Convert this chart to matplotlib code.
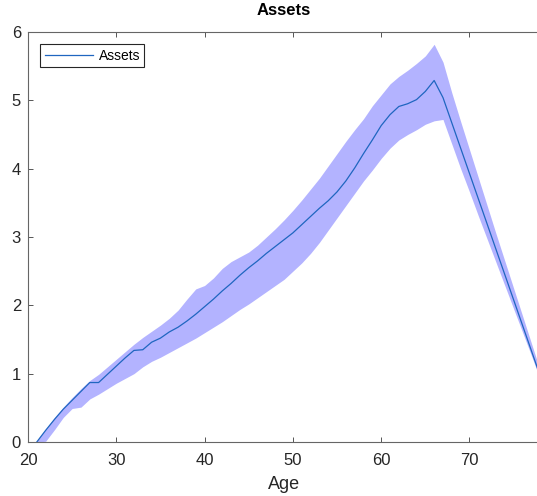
import matplotlib
matplotlib.use("Agg")
import matplotlib.pyplot as plt

# age grid and asset path (mean with upper/lower band)
age = list(range(21, 79))

assets_mean = [0.00, 0.17, 0.33, 0.48, 0.61, 0.74, 0.87, 0.87, 0.99, 1.11,
               1.23, 1.34, 1.35, 1.46, 1.52, 1.61, 1.68, 1.77, 1.87, 1.98,
               2.09, 2.21, 2.32, 2.44, 2.55, 2.65, 2.76, 2.86, 2.96, 3.06,
               3.18, 3.30, 3.42, 3.53, 3.66, 3.82, 4.01, 4.22, 4.42, 4.63,
               4.79, 4.91, 4.95, 5.01, 5.13, 5.29, 5.04, 4.67, 4.30, 3.93,
               3.56, 3.19, 2.82, 2.45, 2.08, 1.71, 1.34, 0.97]

assets_upper = [0.02, 0.19, 0.36, 0.51, 0.65, 0.78, 0.90, 0.99, 1.10, 1.21,
                1.32, 1.43, 1.53, 1.62, 1.71, 1.81, 1.93, 2.09, 2.24, 2.29,
                2.40, 2.54, 2.64, 2.71, 2.78, 2.88, 3.00, 3.12, 3.25, 3.39,
                3.54, 3.70, 3.86, 4.04, 4.22, 4.40, 4.57, 4.73, 4.92, 5.08,
                5.24, 5.35, 5.44, 5.54, 5.65, 5.82, 5.56, 5.11, 4.69, 4.28,
                3.87, 3.46, 3.05, 2.65, 2.25, 1.85, 1.45, 1.05]

assets_lower = [0.00, 0.01, 0.18, 0.36, 0.49, 0.51, 0.63, 0.70, 0.78, 0.86,
                0.93, 1.00, 1.10, 1.18, 1.24, 1.31, 1.38, 1.45, 1.52, 1.60,
                1.68, 1.76, 1.85, 1.94, 2.02, 2.11, 2.20, 2.29, 2.38, 2.50,
                2.62, 2.76, 2.92, 3.10, 3.28, 3.46, 3.64, 3.82, 3.98, 4.15,
                4.30, 4.42, 4.50, 4.57, 4.65, 4.70, 4.72, 4.36, 4.00, 3.66,
                3.31, 2.97, 2.63, 2.29, 1.95, 1.61, 1.27, 0.92]

plt.rcParams['font.family'] = ['Liberation Sans', 'DejaVu Sans']

fig = plt.figure(figsize=(5.37, 4.96), dpi=100)
ax = fig.add_axes([0.0521, 0.1089, 0.9537, 0.8266])

ax.fill_between(age, assets_lower, assets_upper, color='#b3b3ff', linewidth=0)
ax.plot(age, assets_mean, color='#1f66c0', linewidth=0.9, label='Assets')

ax.set_xlim(20, 78)
ax.set_ylim(0, 6)
ax.set_xticks([20, 30, 40, 50, 60, 70])
ax.set_yticks([0, 1, 2, 3, 4, 5, 6])

ax.tick_params(direction='in', length=3.5, width=0.7, colors='#555555',
               labelcolor='#262626', labelsize=12, top=True, right=False)
ax.tick_params(axis='x', pad=8)
ax.tick_params(axis='y', pad=5)
for s in ax.spines.values():
    s.set_color('#666666')
    s.set_linewidth(0.8)

ax.set_title('Assets', fontsize=12, fontweight='bold', pad=12)
ax.set_xlabel('Age', fontsize=13, color='#262626', labelpad=6)

leg = ax.legend(loc='upper left', fontsize=10, fancybox=False, framealpha=1,
                edgecolor='#262626', handlelength=3.5, borderpad=0.3,
                handletextpad=0.4, borderaxespad=0.9)
leg.get_frame().set_linewidth(0.8)

fig.savefig('out.png', dpi=100)
